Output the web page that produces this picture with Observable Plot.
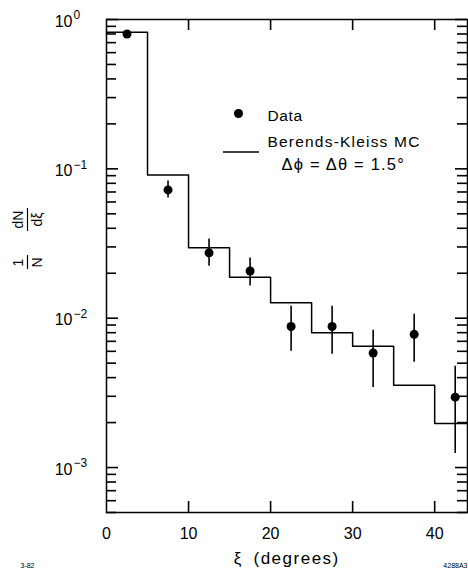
<!DOCTYPE html>
<html>
<head>
<meta charset="utf-8">
<script src="https://cdn.jsdelivr.net/npm/d3@7"></script>
<script src="https://cdn.jsdelivr.net/npm/@observablehq/plot@0.6"></script>
<style>
  html, body { margin: 0; padding: 0; background: #fff; }
  svg { display: block; }
</style>
</head>
<body>
<div id="chart"></div>
<script>
// Monte Carlo histogram (Berends-Kleiss MC), bin edges and contents
const binEdges = [0, 5, 10, 15, 20, 25, 30, 35, 40, 44];
const mcValues = [0.82, 0.091, 0.0296, 0.0188, 0.0127, 0.0080, 0.0065, 0.00355, 0.00197];

// Data points with error bars
const dataXi   = [2.5, 7.5, 12.5, 17.5, 22.5, 27.5, 32.5, 37.5, 42.5];
const dataVal  = [0.80, 0.0723, 0.0274, 0.0207, 0.0088, 0.0088, 0.00585, 0.0078, 0.00296];
const dataLow  = [0.79, 0.0638, 0.0223, 0.0164, 0.0060, 0.00573, 0.00344, 0.00507, 0.00124];
const dataHigh = [0.81, 0.083, 0.0339, 0.0253, 0.0120, 0.0120, 0.0083, 0.01064, 0.00476];

// Axis ticks and labels
const xTicks = [0, 10, 20, 30, 40];
const xInnerTicks = [10, 20, 30, 40];
const yMajor = [1, 0.1, 0.01, 0.001];
const yExpLabels = ["0", "\u22121", "\u22122", "\u22123"];
const yDomain = [5e-4, 1];
const xDomain = [0, 44];

const W = 468, H = 573;
const mL = 106, mR = 1, mT = 19, mB = 61;
const innerW = W - mL - mR, innerH = H - mT - mB;
const FONT = "Liberation Sans, Arial, sans-serif";

const yMinor = d3.scaleLog().domain(yDomain).ticks().filter(v => !yMajor.some(m => Math.abs(m - v) / m < 1e-9));

const mcSteps = binEdges.map((e, i) => ({x: e, y: mcValues[Math.min(i, mcValues.length - 1)]}));
const points = dataXi.map((x, i) => ({x, y: dataVal[i], lo: dataLow[i], hi: dataHigh[i]}));

// tick lengths in pixels, converted to data units along the axis
const majorLen = 12, minorLen = 10, xTickLen = 11;
const pxPerX = innerW / (xDomain[1] - xDomain[0]);
const pxPerDecade = innerH / Math.log10(yDomain[1] / yDomain[0]);
const xIn = len => len / pxPerX;
const yUp = len => Math.pow(10, len / pxPerDecade);
const midY = mT + innerH / 2;

const tickStyle = {stroke: "#000", strokeWidth: 1.6};

const plot = Plot.plot({
  width: W, height: H,
  marginLeft: mL, marginRight: mR, marginTop: mT, marginBottom: mB,
  x: {domain: xDomain, axis: null},
  y: {type: "log", domain: yDomain, axis: null},
  style: {fontFamily: FONT, background: "#fff", color: "#000", overflow: "visible"},
  marks: [
    Plot.frame({stroke: "#000", strokeWidth: 1.5}),
    // inward ticks on the left and right
    Plot.ruleY(yMajor, {y: d => d, x1: xDomain[0], x2: xDomain[0] + xIn(majorLen), ...tickStyle}),
    Plot.ruleY(yMinor, {y: d => d, x1: xDomain[0], x2: xDomain[0] + xIn(minorLen), ...tickStyle}),
    Plot.ruleY(yMajor, {y: d => d, x1: xDomain[1] - xIn(majorLen), x2: xDomain[1], ...tickStyle}),
    Plot.ruleY(yMinor, {y: d => d, x1: xDomain[1] - xIn(minorLen), x2: xDomain[1], ...tickStyle}),
    // inward ticks on the bottom and top
    Plot.ruleX(xInnerTicks, {x: d => d, y1: yDomain[0], y2: yDomain[0] * yUp(xTickLen), ...tickStyle}),
    Plot.ruleX(xInnerTicks, {x: d => d, y1: yDomain[1] / yUp(xTickLen), y2: yDomain[1], ...tickStyle}),
    // x tick labels
    Plot.text(xTicks, {x: d => d, text: d => String(d), frameAnchor: "bottom", dy: 21, lineAnchor: "middle",
      fontSize: 16, fill: "#000"}),
    // y tick labels 10^n
    Plot.text(yMajor, {y: d => d, text: () => "10", frameAnchor: "left", dx: -34, dy: 2, textAnchor: "end",
      lineAnchor: "middle", fontSize: 16, fill: "#000"}),
    Plot.text(yMajor, {y: d => d, text: (d, i) => yExpLabels[i], frameAnchor: "left", dx: -33, dy: -4,
      textAnchor: "start", lineAnchor: "middle", fontSize: 12, fill: "#000"}),
    // MC histogram
    Plot.line(mcSteps, {x: "x", y: "y", curve: "step-after", stroke: "#000", strokeWidth: 1.5}),
    // data error bars and points
    Plot.ruleX(points, {x: "x", y1: "lo", y2: "hi", stroke: "#000", strokeWidth: 1.6}),
    Plot.dot(points, {x: "x", y: "y", r: 4.5, fill: "#000", stroke: "none"}),
    // legend texts
    Plot.text(["Data"], {text: d => d, frameAnchor: "top-left", dx: 267 - mL, dy: 116 - mT,
      textAnchor: "start", lineAnchor: "middle", fontSize: 15.5, fill: "#000"}),
    Plot.text(["Berends-Kleiss MC"], {text: d => d, frameAnchor: "top-left", dx: 267 - mL, dy: 142 - mT,
      textAnchor: "start", lineAnchor: "middle", fontSize: 15.5, fill: "#000"}),
    Plot.text(["\u0394\u03D5 = \u0394\u03B8 = 1.5\u00B0"], {text: d => d, frameAnchor: "top-left", dx: 281 - mL, dy: 164 - mT,
      textAnchor: "start", lineAnchor: "middle", fontSize: 16.5, fill: "#000"}),
    Plot.dot(["Data"], {frameAnchor: "top-left", dx: 238 - mL, dy: 113 - mT, r: 4.5, fill: "#000", stroke: "none"}),
    // x axis label
    Plot.text(["\u03BE"], {text: d => d, frameAnchor: "bottom-left", dx: 237 - mL, dy: 46,
      textAnchor: "middle", lineAnchor: "middle", fontSize: 17, fill: "#000"}),
    Plot.text(["(degrees)"], {text: d => d, frameAnchor: "bottom-left", dx: 253 - mL, dy: 46,
      textAnchor: "start", lineAnchor: "middle", fontSize: 17, fill: "#000"}),
    // y axis label (rotated fractions): 1/N  dN/dξ
    Plot.text(["1"], {text: d => d, frameAnchor: "left", dx: 18 - mL, dy: 262 - midY, rotate: -90,
      textAnchor: "middle", lineAnchor: "middle", fontSize: 14, fill: "#000"}),
    Plot.text(["N"], {text: d => d, frameAnchor: "left", dx: 37 - mL, dy: 262 - midY, rotate: -90,
      textAnchor: "middle", lineAnchor: "middle", fontSize: 14, fill: "#000"}),
    Plot.text(["dN"], {text: d => d, frameAnchor: "left", dx: 18 - mL, dy: 219 - midY, rotate: -90,
      textAnchor: "middle", lineAnchor: "middle", fontSize: 14, fill: "#000"}),
    Plot.text(["d\u03BE"], {text: d => d, frameAnchor: "left", dx: 37 - mL, dy: 219 - midY, rotate: -90,
      textAnchor: "middle", lineAnchor: "middle", fontSize: 14, fill: "#000"}),
    // corner annotations
    Plot.text(["3-82"], {text: d => d, frameAnchor: "bottom-left", dx: 20 - mL, dy: 53,
      textAnchor: "start", lineAnchor: "middle", fontSize: 7, fill: "#000"}),
    Plot.text(["4288A3"], {text: d => d, frameAnchor: "bottom-right", dx: 0, dy: 53,
      textAnchor: "end", lineAnchor: "middle", fontSize: 7, fill: "#000"})
  ]
});

const svg = d3.select(plot);
// letter spacing on the lettering-style texts
svg.selectAll("text").each(function() {
  const t = this.textContent;
  if (t === "Berends-Kleiss MC") this.setAttribute("letter-spacing", "1.2");
  else if (t === "Data") this.setAttribute("letter-spacing", "0.6");
  else if (t.startsWith("\u0394")) this.setAttribute("letter-spacing", "1.2");
  else if (t === "(degrees)") this.setAttribute("letter-spacing", "1.5");
});
// legend line sample
svg.append("line").attr("x1", 223).attr("x2", 259).attr("y1", 152).attr("y2", 152)
  .attr("stroke", "#000").attr("stroke-width", 1.5);
// fraction bars of the y label
svg.append("line").attr("x1", 27.5).attr("x2", 27.5).attr("y1", 255).attr("y2", 269)
  .attr("stroke", "#000").attr("stroke-width", 1.2);
svg.append("line").attr("x1", 27.5).attr("x2", 27.5).attr("y1", 208).attr("y2", 231)
  .attr("stroke", "#000").attr("stroke-width", 1.2);

document.getElementById("chart").appendChild(plot);
</script>
</body>
</html>
